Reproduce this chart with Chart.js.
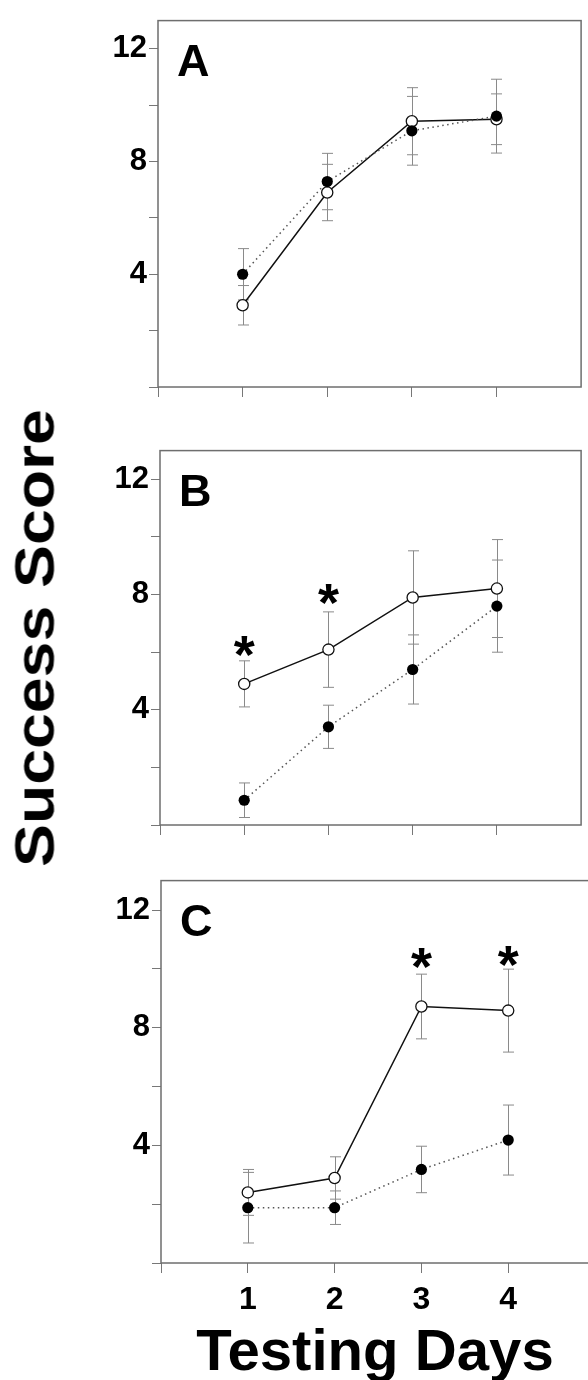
<!DOCTYPE html>
<html>
<head>
<meta charset="utf-8">
<script src="https://cdn.jsdelivr.net/npm/chart.js@4.4.0/dist/chart.umd.min.js"></script>
<style>
  body { margin: 0; background: #fff; overflow: hidden; }
  #wrap { position: relative; width: 588px; height: 1380px; overflow: hidden; background: #fff; }
  canvas { position: absolute; left: 0; }
  .title { position: absolute; font-family: "Liberation Sans", Arial, sans-serif; font-weight: bold;
           color: #000; white-space: nowrap; line-height: 1; }
  #yTitle { font-size: 55px; left: 35px; top: 638px; transform: translate(-50%, -50%) rotate(-90deg) scale(1.17, 1); }
  #xTitle { font-size: 57px; left: 375px; top: 1350px; transform: translate(-50%, -50%) scale(1.02, 1); }
</style>
</head>
<body>
<div id="wrap">
  <canvas id="chartA" width="588" height="420" style="top:0px"></canvas>
  <canvas id="chartB" width="588" height="420" style="top:430px"></canvas>
  <canvas id="chartC" width="610" height="520" style="top:860px"></canvas>
  <div class="title" id="yTitle">Success Score</div>
  <div class="title" id="xTitle">Testing Days</div>
</div>
<script>
const days = [1, 2, 3, 4];

// panel A
const openA = [2.9, 6.9, 9.43, 9.5];
const openErrA = [0.7, 1.0, 1.19, 0.9];
const filledA = [4.0, 7.29, 9.09, 9.61];
const filledErrA = [0.91, 1.0, 1.22, 1.31];

// panel B
const openB = [4.9, 6.09, 7.9, 8.21];
const openErrB = [0.8, 1.31, 1.62, 1.7];
const filledB = [0.86, 3.41, 5.4, 7.6];
const filledErrB = [0.6, 0.75, 1.2, 1.6];
const starDaysB = [1, 2];
const starValsB = [6.1, 7.9];

// panel C
const openC = [2.4, 2.89, 8.72, 8.58];
const openErrC = [0.78, 0.72, 1.1, 1.41];
const filledC = [1.88, 1.88, 3.18, 4.18];
const filledErrC = [1.2, 0.57, 0.79, 1.19];
const starDaysC = [3, 4];
const starValsC = [10.27, 10.35];

const yTicks = [4, 8, 12];
const xTicks = [1, 2, 3, 4];

const FONT = '"Liberation Sans", Arial, sans-serif';

// error bars, box frame, panel letter and asterisks
const panelDecor = {
  id: 'panelDecor',
  beforeDatasetsDraw(chart, args, opts) {
    const { ctx, chartArea: a, scales: { x, y } } = chart;
    ctx.save();
    ctx.strokeStyle = '#6e6e6e';
    ctx.lineWidth = 1.5;
    ctx.strokeRect(a.left, a.top, a.right - a.left, a.bottom - a.top);

    ctx.strokeStyle = '#8a8a8a';
    ctx.lineWidth = 1;
    opts.bars.forEach(b => {
      b.values.forEach((v, i) => {
        const px = Math.round(x.getPixelForValue(days[i])) + 0.5;
        const top = y.getPixelForValue(v + b.errs[i]);
        const bot = y.getPixelForValue(v - b.errs[i]);
        ctx.beginPath();
        ctx.moveTo(px, top); ctx.lineTo(px, bot);
        ctx.moveTo(px - 5.5, top); ctx.lineTo(px + 5.5, top);
        ctx.moveTo(px - 5.5, bot); ctx.lineTo(px + 5.5, bot);
        ctx.stroke();
      });
    });
    ctx.restore();
  },
  afterDatasetsDraw(chart, args, opts) {
    const { ctx, chartArea: a, scales: { x, y } } = chart;
    ctx.save();
    ctx.fillStyle = '#000';
    ctx.textAlign = 'left';
    ctx.textBaseline = 'alphabetic';
    ctx.font = 'bold 45px ' + FONT;
    ctx.fillText(opts.letter, a.left + 19, a.top + 55);

    ctx.textAlign = 'center';
    ctx.font = 'bold 54px ' + FONT;
    opts.starDays.forEach((d, i) => {
      ctx.fillText('*', x.getPixelForValue(d), y.getPixelForValue(opts.starVals[i]) + 24);
    });
    ctx.restore();
  }
};

function makePanel(id, letter, open, openErr, filled, filledErr, starDays, starVals, box, showX) {
  return new Chart(document.getElementById(id), {
    type: 'line',
    data: {
      datasets: [
        {
          data: days.map((d, i) => ({ x: d, y: filled[i] })),
          borderColor: '#555',
          borderWidth: 1.5,
          borderDash: [1.5, 3.5],
          pointRadius: 5.6,
          pointBackgroundColor: '#000',
          pointBorderColor: '#000',
          pointBorderWidth: 0,
          tension: 0
        },
        {
          data: days.map((d, i) => ({ x: d, y: open[i] })),
          borderColor: '#111',
          borderWidth: 1.5,
          pointRadius: 5.6,
          pointBackgroundColor: '#fff',
          pointBorderColor: '#111',
          pointBorderWidth: 1.3,
          tension: 0
        }
      ]
    },
    options: {
      responsive: false,
      animation: false,
      devicePixelRatio: 1,
      layout: { padding: { top: box.top, right: box.right, left: 0, bottom: 0 } },
      plugins: {
        legend: { display: false },
        tooltip: { enabled: false },
        panelDecor: {
          letter: letter,
          starDays: starDays,
          starVals: starVals,
          bars: [
            { values: filled, errs: filledErr },
            { values: open, errs: openErr }
          ]
        }
      },
      scales: {
        x: {
          type: 'linear',
          min: 0,
          max: 5,
          afterFit(s) { s.height = box.xh; },
          afterBuildTicks(s) { s.ticks = s.ticks.filter(t => t.value < 5); },
          border: { display: false },
          grid: { display: true, drawOnChartArea: false, drawTicks: true, tickLength: 10, color: '#777', lineWidth: 1 },
          ticks: {
            display: showX,
            stepSize: 1,
            includeBounds: false,
            maxRotation: 0,
            autoSkip: false,
            padding: 8,
            color: '#000',
            font: { family: FONT, size: 32, weight: 'bold' },
            callback: v => xTicks.includes(v) ? v : ''
          }
        },
        y: {
          min: 0,
          max: 13,
          afterFit(s) { s.width = box.left; },
          border: { display: false },
          grid: { display: true, drawOnChartArea: false, drawTicks: true, tickLength: 9, color: '#777', lineWidth: 1 },
          ticks: {
            stepSize: 2,
            includeBounds: false,
            autoSkip: false,
            padding: 2,
            color: '#000',
            font: { family: FONT, size: 31, weight: 'bold' },
            callback: v => yTicks.includes(v) ? v : ''
          }
        }
      }
    },
    plugins: [panelDecor]
  });
}

makePanel('chartA', 'A', openA, openErrA, filledA, filledErrA, [], [],
  { left: 158, top: 13, right: 5, xh: 33 }, false);
makePanel('chartB', 'B', openB, openErrB, filledB, filledErrB, starDaysB, starValsB,
  { left: 160, top: 17, right: 5, xh: 25 }, false);
makePanel('chartC', 'C', openC, openErrC, filledC, filledErrC, starDaysC, starValsC,
  { left: 161, top: 19, right: 15, xh: 117 }, true);
</script>
</body>
</html>
